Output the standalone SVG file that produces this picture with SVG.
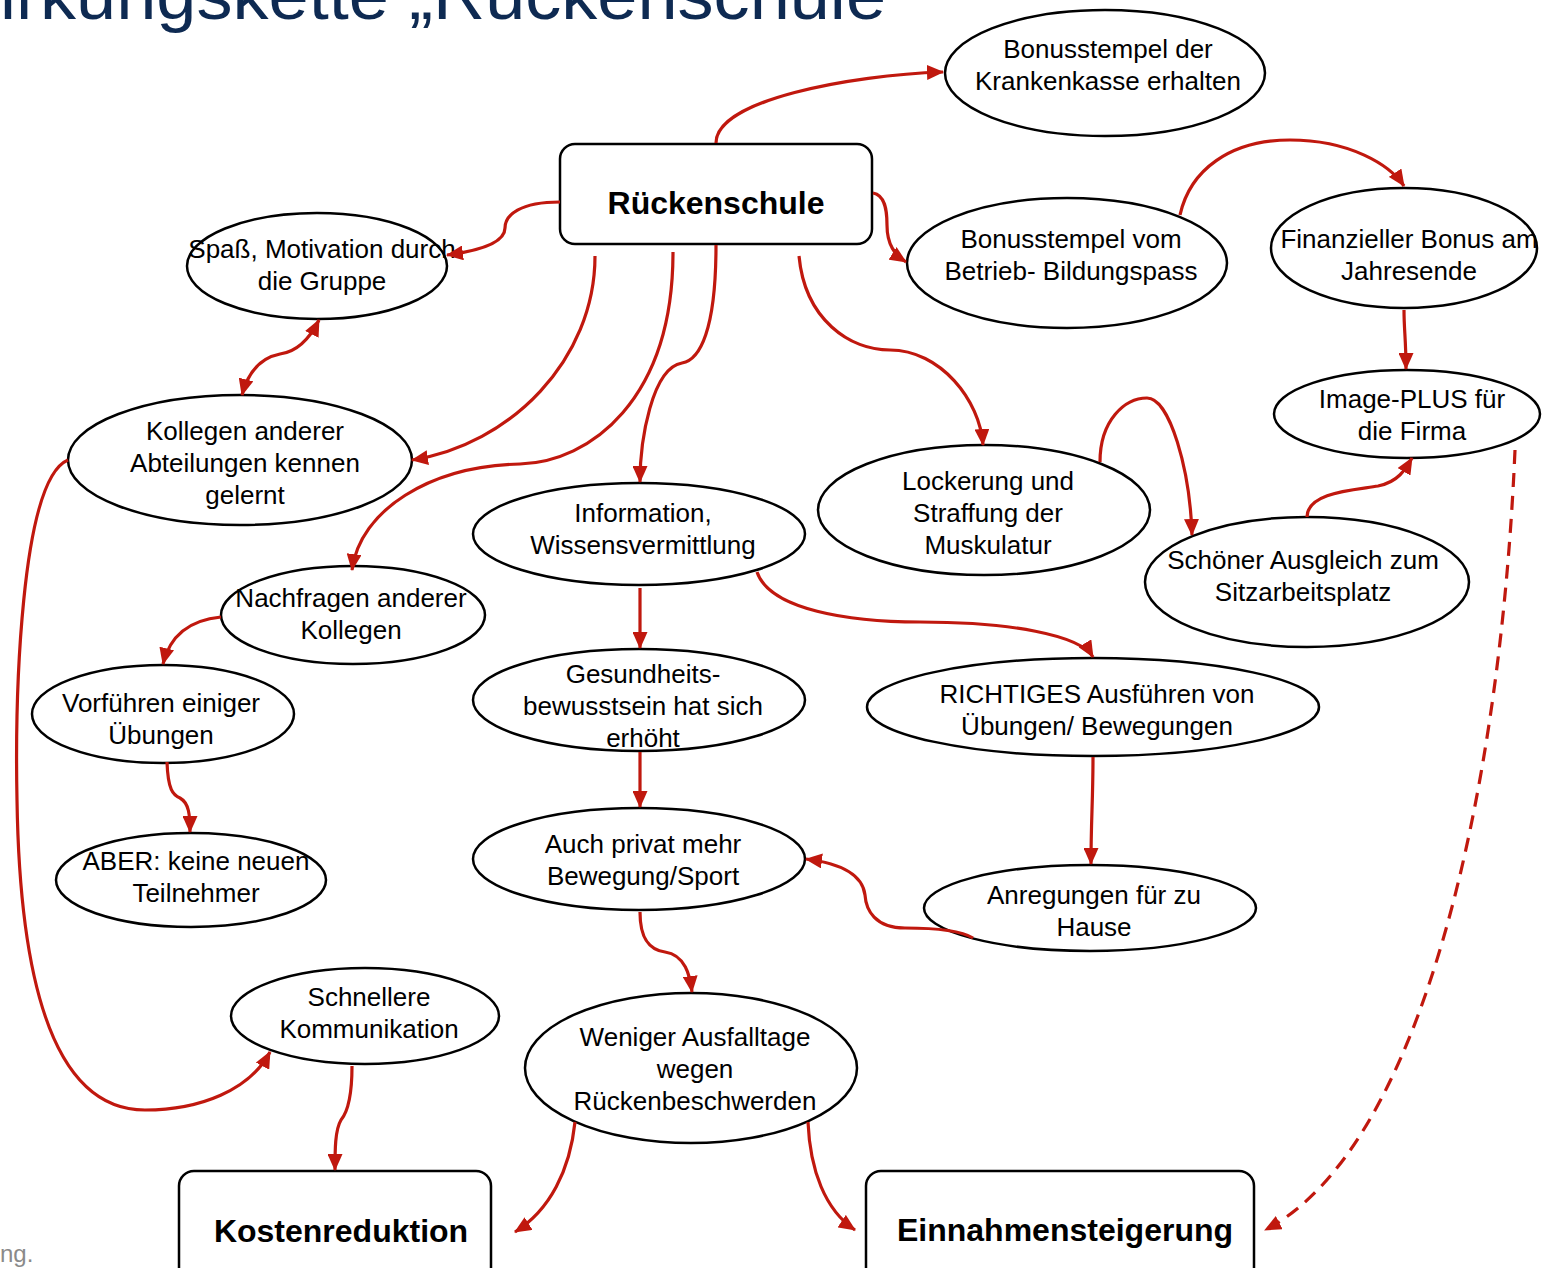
<svg xmlns="http://www.w3.org/2000/svg" width="1546" height="1268" viewBox="0 0 1546 1268">
<defs>
<style>
.n{fill:#fff;stroke:#000;stroke-width:2.5}
.t{font-family:"Liberation Sans",Arial,sans-serif;font-size:26px;fill:#000;text-anchor:middle}
.b{font-family:"Liberation Sans",Arial,sans-serif;font-size:32px;font-weight:bold;fill:#000;text-anchor:middle}
.c{fill:none;stroke:#C0180E;stroke-width:3.2}
.d{fill:none;stroke:#C0180E;stroke-width:3.2;stroke-dasharray:14 9}
</style>
<marker id="ah" viewBox="0 0 17 15" refX="16" refY="7.5" markerWidth="17" markerHeight="15" markerUnits="userSpaceOnUse" orient="auto-start-reverse">
<path d="M0,0 L17,7.5 L0,15 Z" fill="#C0180E"/>
</marker>
</defs>
<rect width="1546" height="1268" fill="#fff"/>
<text x="0" y="19" textLength="886" lengthAdjust="spacingAndGlyphs" style="font-family:'Liberation Sans',Arial,sans-serif;font-size:68px;fill:#0E2A52">irkungskette „Rückenschule</text>
<text x="0" y="1262" style="font-family:'Liberation Sans',Arial,sans-serif;font-size:24px;fill:#8A8A8A">ng.</text>

<g id="n-krankenkasse"><ellipse class="n" cx="1105" cy="73" rx="160" ry="63"/><text class="t" x="1108" y="58">Bonusstempel der</text><text class="t" x="1108" y="90">Krankenkasse erhalten</text></g>
<g id="n-rueckenschule"><rect class="n" x="560" y="144" width="312" height="100" rx="15"/><text class="b" x="716" y="214">Rückenschule</text></g>
<g id="n-spass"><ellipse class="n" cx="317" cy="266" rx="130" ry="53"/><text class="t" x="322" y="258">Spaß, Motivation durch</text><text class="t" x="322" y="290">die Gruppe</text></g>
<g id="n-betrieb"><ellipse class="n" cx="1067" cy="263" rx="160" ry="65"/><text class="t" x="1071" y="248">Bonusstempel vom</text><text class="t" x="1071" y="280">Betrieb- Bildungspass</text></g>
<g id="n-finanziell"><ellipse class="n" cx="1404" cy="248" rx="133" ry="60"/><text class="t" x="1409" y="248">Finanzieller Bonus am</text><text class="t" x="1409" y="280">Jahresende</text></g>
<g id="n-image"><ellipse class="n" cx="1407" cy="414" rx="133" ry="44"/><text class="t" x="1412" y="408">Image-PLUS für</text><text class="t" x="1412" y="440">die Firma</text></g>
<g id="n-kollegen"><ellipse class="n" cx="240" cy="460" rx="172" ry="65"/><text class="t" x="245" y="440">Kollegen anderer</text><text class="t" x="245" y="472">Abteilungen kennen</text><text class="t" x="245" y="504">gelernt</text></g>
<g id="n-lockerung"><ellipse class="n" cx="984" cy="510" rx="166" ry="65"/><text class="t" x="988" y="490">Lockerung und</text><text class="t" x="988" y="522">Straffung der</text><text class="t" x="988" y="554">Muskulatur</text></g>
<g id="n-information"><ellipse class="n" cx="639" cy="534" rx="166" ry="51"/><text class="t" x="643" y="522">Information,</text><text class="t" x="643" y="554">Wissensvermittlung</text></g>
<g id="n-ausgleich"><ellipse class="n" cx="1307" cy="582" rx="162" ry="65"/><text class="t" x="1303" y="569">Schöner Ausgleich zum</text><text class="t" x="1303" y="601">Sitzarbeitsplatz</text></g>
<g id="n-nachfragen"><ellipse class="n" cx="353" cy="615" rx="132" ry="49"/><text class="t" x="351" y="607">Nachfragen anderer</text><text class="t" x="351" y="639">Kollegen</text></g>
<g id="n-vorfuehren"><ellipse class="n" cx="163" cy="714" rx="131" ry="49"/><text class="t" x="161" y="712">Vorführen einiger</text><text class="t" x="161" y="744">Übungen</text></g>
<g id="n-gesundheit"><ellipse class="n" cx="639" cy="700" rx="166" ry="51"/><text class="t" x="643" y="683">Gesundheits-</text><text class="t" x="643" y="715">bewusstsein hat sich</text><text class="t" x="643" y="747">erhöht</text></g>
<g id="n-richtig"><ellipse class="n" cx="1093" cy="707" rx="226" ry="49"/><text class="t" x="1097" y="703">RICHTIGES Ausführen von</text><text class="t" x="1097" y="735">Übungen/ Bewegungen</text></g>
<g id="n-aber"><ellipse class="n" cx="191" cy="880" rx="135" ry="47"/><text class="t" x="196" y="870">ABER: keine neuen</text><text class="t" x="196" y="902">Teilnehmer</text></g>
<g id="n-privat"><ellipse class="n" cx="639" cy="859" rx="166" ry="51"/><text class="t" x="643" y="853">Auch privat mehr</text><text class="t" x="643" y="885">Bewegung/Sport</text></g>
<g id="n-anregungen"><ellipse class="n" cx="1090" cy="908" rx="166" ry="43"/><text class="t" x="1094" y="904">Anregungen für zu</text><text class="t" x="1094" y="936">Hause</text></g>
<g id="n-kommunikation"><ellipse class="n" cx="365" cy="1016" rx="134" ry="48"/><text class="t" x="369" y="1006">Schnellere</text><text class="t" x="369" y="1038">Kommunikation</text></g>
<g id="n-ausfalltage"><ellipse class="n" cx="691" cy="1068" rx="166" ry="75"/><text class="t" x="695" y="1046">Weniger Ausfalltage</text><text class="t" x="695" y="1078">wegen</text><text class="t" x="695" y="1110">Rückenbeschwerden</text></g>
<g id="n-kosten"><rect class="n" x="179" y="1171" width="312" height="120" rx="15"/><text class="b" x="341" y="1242">Kostenreduktion</text></g>
<g id="n-einnahmen"><rect class="n" x="866" y="1171" width="388" height="120" rx="15"/><text class="b" x="1065" y="1241">Einnahmensteigerung</text></g>

<g id="connectors">
<path class="c" marker-end="url(#ah)" d="M716,143 C716,100 850,75 943,72"/>
<path class="c" marker-end="url(#ah)" d="M873,193 C885,195 887,210 887,225 C887,245 895,255 906,262"/>
<path class="c" marker-end="url(#ah)" d="M560,202 C520,202 505,215 505,228 C505,245 470,252 447,255"/>
<path class="c" marker-end="url(#ah)" d="M1180,215 C1190,170 1230,140 1290,140 C1350,140 1390,165 1404,186"/>
<path class="c" marker-end="url(#ah)" d="M1404,310 C1404,330 1406,340 1406,369"/>
<path class="c" marker-start="url(#ah)" marker-end="url(#ah)" d="M319,320 C308,342 295,352 280,354 C260,358 248,372 242,395"/>
<path class="c" marker-end="url(#ah)" d="M595,256 C595,360 510,445 412,460"/>
<path class="c" marker-end="url(#ah)" d="M673,252 C673,400 590,462 520,464 C430,466 360,510 352,570"/>
<path class="c" marker-end="url(#ah)" d="M716,245 C716,330 700,360 682,363 C652,368 640,440 640,482"/>
<path class="c" marker-end="url(#ah)" d="M799,256 C805,320 850,350 890,350 C940,350 980,400 983,445"/>
<path class="c" marker-end="url(#ah)" d="M1100,462 C1100,420 1125,398 1147,398 C1170,398 1190,470 1192,535"/>
<path class="c" marker-end="url(#ah)" d="M1307,517 C1307,492 1355,490 1378,486 C1398,482 1405,470 1412,458"/>
<path class="d" marker-end="url(#ah)" d="M1515,450 C1500,800 1420,1150 1265,1230"/>
<path class="c" marker-end="url(#ah)" d="M640,588 L640,648"/>
<path class="c" marker-end="url(#ah)" d="M757,572 C770,610 850,622 920,622 C1010,622 1080,635 1093,657"/>
<path class="c" marker-end="url(#ah)" d="M221,617 C190,620 170,635 163,664"/>
<path class="c" marker-end="url(#ah)" d="M167,762 C168,790 173,795 180,798 C189,803 190,815 190,832"/>
<path class="c" marker-end="url(#ah)" d="M640,752 L640,807"/>
<path class="c" marker-end="url(#ah)" d="M1093,757 C1093,800 1091,820 1091,864"/>
<path class="c" marker-end="url(#ah)" d="M973,938 C960,930 930,928 905,928 C875,928 866,910 865,895 C862,870 830,862 806,859"/>
<path class="c" marker-end="url(#ah)" d="M640,912 C640,940 650,950 665,952 C685,955 690,975 692,992"/>
<path class="c" marker-end="url(#ah)" d="M68,460 C20,480 15,700 17,800 C20,1000 60,1110 145,1110 C200,1110 250,1090 270,1052"/>
<path class="c" marker-end="url(#ah)" d="M352,1066 C352,1100 346,1114 341,1120 C335,1130 335,1150 335,1170"/>
<path class="c" marker-end="url(#ah)" d="M575,1122 C570,1170 550,1210 515,1232"/>
<path class="c" marker-end="url(#ah)" d="M808,1122 C810,1170 825,1210 855,1230"/>
</g>
</svg>
